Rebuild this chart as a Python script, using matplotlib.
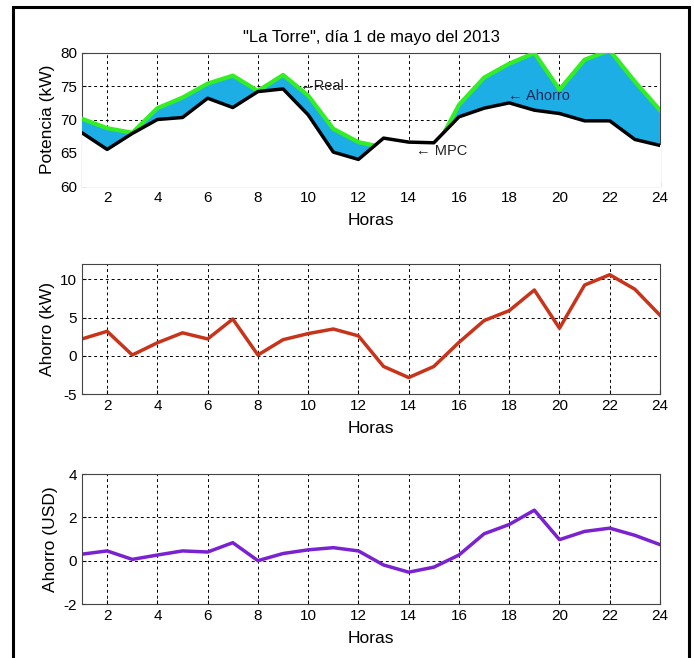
import numpy as np
import matplotlib
matplotlib.use('Agg')
import matplotlib.pyplot as plt
from matplotlib.patches import Rectangle

plt.rcParams['font.family'] = ['Liberation Sans', 'DejaVu Sans']
plt.rcParams['axes.unicode_minus'] = False

horas = list(range(1, 25))
mpc = [68.0, 65.5, 67.9, 70.0, 70.3, 73.2, 71.8, 74.2, 74.6, 70.7, 65.1, 64.0,
       67.2, 66.6, 66.5, 70.4, 71.7, 72.5, 71.4, 70.9, 69.8, 69.8, 67.0, 66.1]
real = [70.1, 68.7, 68.0, 71.7, 73.3, 75.4, 76.6, 74.3, 76.7, 73.6, 68.6, 66.6,
        65.8, 63.8, 65.1, 72.2, 76.3, 78.4, 80.0, 74.5, 79.0, 80.4, 75.7, 71.4]
ahorro_kw = [2.2, 3.2, 0.1, 1.7, 3.0, 2.2, 4.8, 0.1, 2.1, 2.9, 3.5, 2.6,
             -1.4, -2.85, -1.4, 1.75, 4.6, 5.9, 8.6, 3.6, 9.25, 10.6, 8.7, 5.3]
ahorro_usd = [0.3, 0.45, 0.06, 0.26, 0.45, 0.4, 0.83, 0.0, 0.33, 0.5, 0.6, 0.45,
              -0.2, -0.53, -0.3, 0.26, 1.24, 1.67, 2.33, 0.97, 1.35, 1.5, 1.17, 0.74]

W, H = 694, 658
fig = plt.figure(figsize=(W / 100, H / 100), dpi=100)

# outer frame
fig.patches.append(Rectangle((13 / W, -0.02), 676 / W, 1 - 7 / H + 0.02,
                             transform=fig.transFigure, fill=False,
                             edgecolor='black', linewidth=2.2))


def make_ax(top, bottom):
    ax = fig.add_axes([82 / W, 1 - bottom / H, 578 / W, (bottom - top) / H])
    ax.set_xlim(1, 24)
    ax.set_xticks(range(2, 25, 2))
    ax.grid(True, color='black', linestyle=(0, (3, 3)), linewidth=0.7)
    ax.tick_params(direction='in', length=3, labelsize=11, colors='black')
    for s in ax.spines.values():
        s.set_color('#444444')
        s.set_linewidth(0.8)
    return ax


# top panel
ax1 = make_ax(53, 186)
x = np.array(horas)
r = np.array(real)
m = np.array(mpc)
ax1.fill_between(x, m, r, where=r >= m, interpolate=True, color='#1eaee6', zorder=3)
ax1.plot(x, r, color='#33ee22', linewidth=3.0, zorder=3.5)
ax1.fill_between(x, 60, m, color='white', zorder=4)
ax1.plot(x, m, color='black', linewidth=2.5, zorder=5)
ax1.set_ylim(60, 80)
ax1.set_yticks([60, 65, 70, 75, 80])
ax1.set_ylabel('Potencia (kW)', fontsize=12.5)
ax1.set_xlabel('Horas', fontsize=12.5, labelpad=6)
ax1.set_title('"La Torre", día 1 de mayo del 2013', fontsize=12, pad=8)
ax1.text(9.65, 75.0, '\u2190Real', fontsize=10.5, va='center', color='#222222', zorder=6)
ax1.text(17.95, 73.5, '\u2190 Ahorro', fontsize=10.5, va='center', color='#1a2a5a', zorder=6)
ax1.text(14.3, 65.3, '\u2190 MPC', fontsize=10.5, va='center', color='#222222', zorder=6)

# middle panel
ax2 = make_ax(264, 394)
ax2.plot(horas, ahorro_kw, color='#c8341a', linewidth=2.5)
ax2.set_ylim(-5, 12)
ax2.set_yticks([-5, 0, 5, 10])
ax2.set_ylabel('Ahorro (kW)', fontsize=12.5)
ax2.set_xlabel('Horas', fontsize=12.5, labelpad=6)

# bottom panel
ax3 = make_ax(474, 604)
ax3.plot(horas, ahorro_usd, color='#7a22d0', linewidth=2.5)
ax3.set_ylim(-2, 4)
ax3.set_yticks([-2, 0, 2, 4])
ax3.set_ylabel('Ahorro (USD)', fontsize=12.5)
ax3.set_xlabel('Horas', fontsize=12.5, labelpad=6)

fig.savefig('out.png', dpi=100)
